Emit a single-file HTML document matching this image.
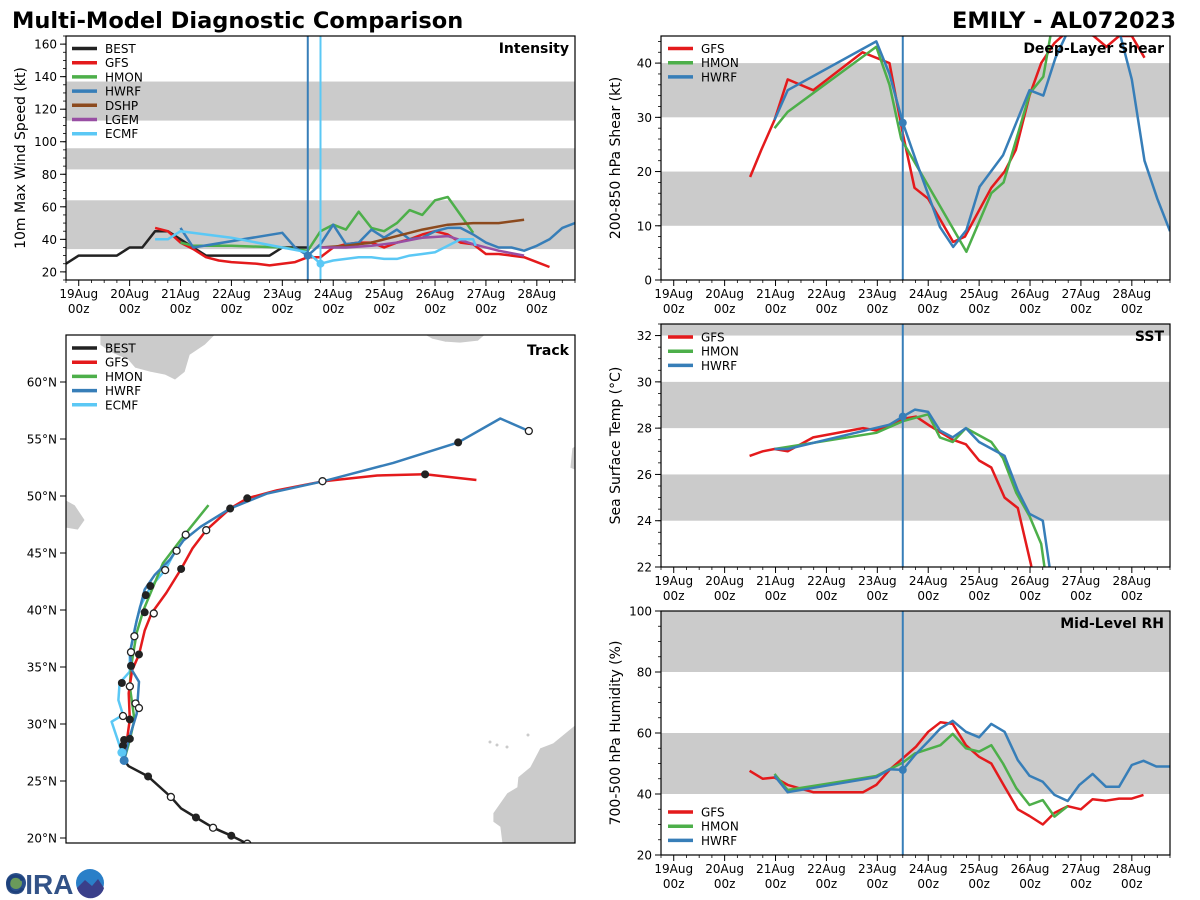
<!DOCTYPE html>
<html><head><meta charset="utf-8"><style>
html,body{margin:0;padding:0;background:#fff;}
svg{display:block;font-family:"DejaVu Sans","Liberation Sans",sans-serif;}
</style></head><body>
<svg id="fig" width="1200" height="900" viewBox="0 0 1200 900" xmlns="http://www.w3.org/2000/svg">
<text x="12" y="28" font-size="22.5" font-weight="bold" fill="#000">Multi-Model Diagnostic Comparison</text>
<text x="1176" y="28" font-size="22.5" font-weight="bold" fill="#000" text-anchor="end">EMILY - AL072023</text>
<g>
<circle cx="16" cy="883" r="10" fill="#2a4f8a"/><circle cx="16" cy="883" r="6" fill="#6a9a5a"/>
<text x="5" y="894" font-size="28" font-weight="bold" fill="#1c3f7a" font-family="Liberation Sans, sans-serif" fill-opacity="0.9">CIRA</text>
<circle cx="90" cy="883" r="14" fill="#2a7fc8"/><path d="M77,888 L85,880 L92,886 L98,879 L104,888 A14,14 0 0 1 77,888Z" fill="#3a3f8a"/>
</g>
<g id="plots"></g>
</svg>
<script>
// ---------------- DATA ----------------
// times in days from 19 Aug 00z
const intBestT=[-0.25,0,0.25,0.5,0.75,1,1.25,1.5,1.75,2,2.25,2.5,2.75,3,3.25,3.5,3.75,4,4.25,4.5];
const intBestV=[25,30,30,30,30,35,35,45,45,40,35,30,30,30,30,30,30,35,35,35];
const intGfsT=[1.5,1.75,2,2.25,2.5,2.75,3,3.5,3.75,4,4.25,4.5,4.75,5,5.25,5.5,5.75,6,6.25,6.5,6.75,7,7.25,7.5,7.75,8,8.25,8.5,8.75,9,9.25];
const intGfsV=[47,45,38,34,29,27,26,25,24,25,26,29,29,35,37,38,38,35,38,40,43,45,43,38,37,31,31,30,29,26,23];
const intHmonT=[2,2.25,3,4,4.5,4.75,5,5.25,5.5,5.75,6,6.25,6.5,6.75,7,7.25,7.5,7.75];
const intHmonV=[38,36,36,35,33,45,49,46,57,47,45,50,58,55,64,66,55,44];
const intHwrfT=[2,2.25,4,4.25,4.5,4.75,5,5.25,5.5,5.75,6,6.25,6.5,6.75,7,7.25,7.5,7.75,8,8.25,8.5,8.75,9,9.25,9.5,9.75];
const intHwrfV=[47,35,44,35,30,37,49,37,38,46,41,46,40,41,45,47,47,43,38,35,35,33,36,40,47,50];
const intDshpT=[4.75,5.25,5.75,6.25,6.75,7.25,7.75,8.25,8.75];
const intDshpV=[35,36,38,42,46,49,50,50,52];
const intLgemT=[4.75,5.25,5.75,6.25,6.75,7.25,7.75,8.25,8.75];
const intLgemV=[35,35,36,38,41,42,37,33,30];
const intEcmfT=[1.5,1.75,2,3,4,4.5,4.75,5,5.25,5.5,5.75,6,6.25,6.5,6.75,7,7.25,7.5,7.75,7.8];
const intEcmfV=[40,40,45,41,35,32,25,27,28,29,29,28,28,30,31,32,36,40,40,36];

const shrGfsT=[1.5,1.72,1.98,2.24,2.74,3.71,4.24,4.5,4.73,5.0,5.49,5.72,6.24,6.5,6.72,6.99,7.22,7.48,7.75,8.0,8.25,8.5,8.75,9.0,9.25];
const shrGfsV=[19,24,29.5,37,35,42,40,27,17,15,7,8,17,20,24,34,40,43.7,46,46,45,43,45,45,41];
const shrHmonT=[1.98,2.24,3.98,4.24,4.47,5.75,6.24,6.48,7.0,7.26,7.4,7.5,7.75];
const shrHmonV=[28,31,43,36,26,5.2,16,18,34.5,37.5,45,46,47];
const shrHwrfT=[1.98,2.24,3.98,4.24,4.5,4.76,5.23,5.49,5.75,6.01,6.47,6.99,7.26,7.5,7.75,8,8.25,8.5,8.75,9,9.25,9.5,9.75];
const shrHwrfV=[29.5,35,44,38,29,22,9.8,6.1,9.2,17.2,23,35,34,41,46,47,47,46,46,37,22,15,9];

const sstGfsT=[1.49,1.75,1.98,2.24,2.74,3.72,3.98,4.5,4.76,5.03,5.48,5.74,6.0,6.24,6.5,6.76,7.02,7.1];
const sstGfsV=[26.8,27.0,27.1,27.0,27.6,28.0,27.9,28.4,28.5,28.1,27.5,27.3,26.6,26.3,25.0,24.55,22.1,21];
const sstHmonT=[1.98,3.98,4.5,5.0,5.23,5.48,5.74,6.24,6.47,6.73,6.99,7.22,7.29,7.32];
const sstHmonV=[27.1,27.8,28.3,28.6,27.6,27.4,28.0,27.4,26.7,25.2,24.2,23.0,21.9,21];
const sstHwrfT=[1.98,2.24,4.24,4.5,4.74,5.0,5.23,5.48,5.74,6.0,6.5,6.76,6.99,7.25,7.39,7.42];
const sstHwrfV=[27.1,27.1,28.15,28.5,28.8,28.7,27.9,27.6,28.0,27.4,26.8,25.3,24.3,24.0,21.9,21];

const rhGfsT=[1.49,1.75,1.98,2.24,2.74,3.72,3.98,4.24,4.5,4.76,5.0,5.24,5.48,5.74,6.0,6.24,6.5,6.76,6.99,7.25,7.48,7.74,8.0,8.23,8.49,8.75,9.0,9.23];
const rhGfsV=[47.6,45,45.4,43,40.6,40.6,43,47.9,51.7,55.5,60.4,63.5,63,56,52.2,50,42.4,35,32.8,30,33.8,36,35,38.3,37.8,38.5,38.5,39.7];
const rhHmonT=[1.98,2.24,3.98,4.5,4.74,5.24,5.48,5.74,6.0,6.24,6.47,6.73,6.99,7.25,7.48,7.74];
const rhHmonV=[46.6,41.3,45.9,50.3,53.3,56,59.7,55,53.9,56,50,41.9,36.4,38,32.6,36];
const rhHwrfT=[1.98,2.24,3.98,4.24,4.5,4.74,5.0,5.24,5.48,5.74,6.0,6.24,6.5,6.76,6.99,7.25,7.48,7.74,7.97,8.23,8.49,8.75,9.0,9.23,9.48,9.74];
const rhHwrfV=[46,40.6,45.5,48.1,47.9,52.8,57.2,61.5,64,60.4,58.6,63,60.4,51.1,46,44,39.7,37.7,43,46.6,42.4,42.4,49.5,50.9,49,49];

const dayLabels=["19Aug","20Aug","21Aug","22Aug","23Aug","24Aug","25Aug","26Aug","27Aug","28Aug"];
const intTicks=[20,40,60,80,100,120,140,160];
const shrTicks=[0,10,20,30,40];
const sstTicks=[22,24,26,28,30,32];
const rhTicks=[20,40,60,80,100];
const latTicks=[20,25,30,35,40,45,50,55,60];

// track (lon, lat)
const trkBestLon=[-49.9,-49.5,-47.8,-45.8,-44.9,-43.6,-42.1,-40.5,-39.1,-38.0];
const trkBestLat=[26.8,26.3,25.4,23.6,22.6,21.8,20.9,20.2,19.5,18.8];
const trkGfsLon=[-49.9,-49.4,-49.5,-49.2,-48.6,-48.1,-47.5,-46.2,-44.9,-43.9,-42.7,-40.6,-39.1,-36.5,-32.4,-27.7,-23.5,-19.0];
const trkGfsLat=[26.8,30.4,32.7,34.7,36.1,38.2,39.7,41.5,43.6,45.4,47.0,48.9,49.8,50.5,51.3,51.8,51.9,51.4];
const trkHmonLon=[-49.9,-49.4,-49.0,-49.4,-49.3,-48.8,-48.2,-46.5,-44.6,-42.5];
const trkHmonLat=[26.8,28.6,30.4,33.3,35.0,38.0,40.0,44.1,46.6,49.2];
const trkHwrfLon=[-49.9,-49.5,-48.8,-48.6,-49.2,-49.4,-48.8,-48.1,-47.2,-45.9,-44.7,-43.2,-40.6,-37.4,-32.4,-26.3,-20.6,-16.9,-14.4];
const trkHwrfLat=[26.8,28.6,30.9,33.7,34.7,36.2,39.1,41.8,43.1,44.4,46.1,47.3,48.9,50.2,51.3,52.9,54.7,56.8,55.7];
const trkEcmfLon=[-50.1,-51.0,-50.0,-50.4,-50.3,-49.4,-49.4,-49.0,-48.5,-47.6,-46.3,-45.3];
const trkEcmfLat=[27.5,30.2,30.8,32.1,33.6,34.6,36.2,38.2,40.3,42.0,43.5,45.4];
const mkFilledLon=[-50.1,-49.4,-49.9,-49.4,-50.0,-48.6,-48.1,-48.0,-47.6,-44.9,-49.3,-40.6,-39.1,-23.5,-20.6,-47.8,-43.6,-40.5];
const mkFilledLat=[33.6,30.4,28.6,28.7,28.1,36.1,39.8,41.3,42.1,43.6,35.1,48.9,49.8,51.9,54.7,25.4,21.8,20.2];
const mkOpenLon=[-50.0,-49.4,-48.9,-48.6,-49.3,-49.0,-47.3,-46.3,-45.3,-44.5,-42.7,-32.5,-14.4,-45.8,-42.1,-39.1];
const mkOpenLat=[30.7,33.3,31.8,31.4,36.3,37.7,39.7,43.5,45.2,46.6,47.0,51.3,55.7,23.6,20.9,19.5];

const C={BEST:"#222222",GFS:"#e41a1c",HMON:"#4daf4a",HWRF:"#377eb8",DSHP:"#8c4a1e",LGEM:"#984ea3",ECMF:"#5bc8f5"};
// ---------------- DRAW ----------------
const NS="http://www.w3.org/2000/svg";
const root=document.getElementById('plots');
function el(tag,attrs,parent){const e=document.createElementNS(NS,tag);for(const k in attrs)e.setAttribute(k,attrs[k]);(parent||root).appendChild(e);return e;}
let clipN=0;
function panel(name,x0,y0,x1,y1,ymin,ymax,ticks,minorStep,ylabel,title,bands){
  const g=el('g',{});
  
  
  const sx=t=>x0+(t+0.25)*(x1-x0)/10;
  const sy=v=>y1-(v-ymin)*(y1-y0)/(ymax-ymin);
  const id='clip'+(clipN++);
  const cp=el('clipPath',{id:id},g);el('rect',{x:x0,y:y0,width:x1-x0,height:y1-y0},cp);
  bands.forEach(b=>{const r=el('rect',{x:x0,y:sy(Math.min(b[1],ymax)),width:x1-x0,height:sy(b[0])-sy(Math.min(b[1],ymax)),fill:'#cbcbcb'},g);
    
    });
  const plot=el('g',{'clip-path':'url(#'+id+')'},g);
  ticks.forEach(v=>{el('line',{x1:x0-6,x2:x0,y1:sy(v),y2:sy(v),stroke:'#000','stroke-width':1},g);
    const t=el('text',{x:x0-9,y:sy(v)+4.5,'font-size':12,'text-anchor':'end'},g);t.textContent=v;
    
    });
  for(let v=ymin-(ymin%minorStep);v<=ymax;v+=minorStep){if(v<ymin)continue;el('line',{x1:x0-3,x2:x0,y1:sy(v),y2:sy(v),stroke:'#000','stroke-width':0.8},g);}
  for(let i=0;i<=40;i++){const t=-0.25+i*0.25;const X=sx(t);el('line',{x1:X,x2:X,y1:y1,y2:y1+(i%4===1?6:3),stroke:'#000','stroke-width':(i%4===1?1:0.8)},g);}
  dayLabels.forEach((d,i)=>{const X=sx(i);
    const a=el('text',{x:X,y:y1+18,'font-size':12,'text-anchor':'middle'},g);a.textContent=d;
    
    
    const b=el('text',{x:X,y:y1+33,'font-size':12,'text-anchor':'middle'},g);b.textContent='00z';
    
    });
  const yl=el('text',{x:0,y:0,'font-size':14,'text-anchor':'middle',transform:`translate(${x0-41},${(y0+y1)/2}) rotate(-90)`},g);yl.textContent=ylabel;
  
  
  const tt=el('text',{x:x1-6,y:y0+17,'font-size':14,'font-weight':'bold','text-anchor':'end'},g);tt.textContent=title;
  
  
  return {g,plot,sx,sy,x0,y0,x1,y1,finish(){el('rect',{x:x0,y:y0,width:x1-x0,height:y1-y0,fill:'none',stroke:'#000','stroke-width':1.2},g);}};
}
function series(P,T,V,color,name){
  const d=T.map((t,i)=>(i?'L':'M')+P.sx(t).toFixed(1)+','+P.sy(V[i]).toFixed(1)).join(' ');
  const p=el('path',{d:d,fill:'none',stroke:color,'stroke-width':2.5,'stroke-linejoin':'round'},P.plot);
  
  
}
function vline(P,t,color){el('line',{x1:P.sx(t),x2:P.sx(t),y1:P.y0,y2:P.y1,stroke:color,'stroke-width':2},P.plot);}
function dot(P,T,V,t,color){const i=T.indexOf(t);if(i<0)return;el('circle',{cx:P.sx(t),cy:P.sy(V[i]),r:4,fill:color},P.plot);}
function legend(P,x,y,names){names.forEach((n,i)=>{const yy=y+i*14.2;
  el('line',{x1:x,x2:x+25,y1:yy,y2:yy,stroke:C[n],'stroke-width':3.5},P.g);
  const t=el('text',{x:x+33,y:yy+4.5,'font-size':12},P.g);t.textContent=n;
  
  });}

const PI=panel('intensity',66,36,575,280,15,165,intTicks,5,'10m Max Wind Speed (kt)','Intensity',[[34,64],[83,96],[113,137]]);
series(PI,intBestT,intBestV,C.BEST,'best-intensity-line');
series(PI,intGfsT,intGfsV,C.GFS,'gfs-intensity-line');
series(PI,intHmonT,intHmonV,C.HMON,'hmon-intensity-line');
series(PI,intHwrfT,intHwrfV,C.HWRF,'hwrf-intensity-line');
series(PI,intDshpT,intDshpV,C.DSHP,'dshp-intensity-line');
series(PI,intLgemT,intLgemV,C.LGEM,'lgem-intensity-line');
series(PI,intEcmfT,intEcmfV,C.ECMF,'ecmf-intensity-line');
vline(PI,4.5,C.HWRF);vline(PI,4.75,C.ECMF);
dot(PI,intHwrfT,intHwrfV,4.5,C.HWRF);dot(PI,intEcmfT,intEcmfV,4.75,C.ECMF);
legend(PI,72,48.5,['BEST','GFS','HMON','HWRF','DSHP','LGEM','ECMF']);PI.finish();

const PS=panel('shear',661,36,1170,280,0,45,shrTicks,2,'200-850 hPa Shear (kt)','Deep-Layer Shear',[[10,20],[30,40]]);
series(PS,shrGfsT,shrGfsV,C.GFS,'gfs-shear-line');
series(PS,shrHmonT,shrHmonV,C.HMON,'hmon-shear-line');
series(PS,shrHwrfT,shrHwrfV,C.HWRF,'hwrf-shear-line');
vline(PS,4.5,C.HWRF);dot(PS,shrHwrfT,shrHwrfV,4.5,C.HWRF);
legend(PS,668,48.5,['GFS','HMON','HWRF']);PS.finish();

const PT=panel('sst',661,324,1170,567,22,32.5,sstTicks,0.5,'Sea Surface Temp (°C)','SST',[[24,26],[28,30],[32,33]]);
series(PT,sstGfsT,sstGfsV,C.GFS,'gfs-sst-line');
series(PT,sstHmonT,sstHmonV,C.HMON,'hmon-sst-line');
series(PT,sstHwrfT,sstHwrfV,C.HWRF,'hwrf-sst-line');
vline(PT,4.5,C.HWRF);dot(PT,sstHwrfT,sstHwrfV,4.5,C.HWRF);
legend(PT,668,337,['GFS','HMON','HWRF']);PT.finish();

const PR=panel('rh',661,611,1170,855,20,100,rhTicks,5,'700-500 hPa Humidity (%)','Mid-Level RH',[[40,60],[80,100]]);
series(PR,rhGfsT,rhGfsV,C.GFS,'gfs-rh-line');
series(PR,rhHmonT,rhHmonV,C.HMON,'hmon-rh-line');
series(PR,rhHwrfT,rhHwrfV,C.HWRF,'hwrf-rh-line');
vline(PR,4.5,C.HWRF);dot(PR,rhHwrfT,rhHwrfV,4.5,C.HWRF);
legend(PR,668,812,['GFS','HMON','HWRF']);PR.finish();

(function(){
  const x0=66,y0=335,x1=575,y1=843,k=11.4;
  const mx=lon=>x0+(lon+55)*k, my=lat=>838-(lat-20)*k;
  const g=el('g',{});
  
  
  const cp=el('clipPath',{id:'clipMap'},g);el('rect',{x:x0,y:y0,width:x1-x0,height:y1-y0},cp);
  const m=el('g',{'clip-path':'url(#clipMap)'},g);
  const land=[
   "M100,335 L215,335 L205,345 L190,355 L185,372 L175,380 L165,375 L150,372 L135,368 L128,360 L110,352 L100,345Z",
   "M425,335 L485,335 L478,341 L460,343 L445,342 L432,339Z",
   "M66,500 L75,505 L85,520 L78,530 L66,528Z",
   "M575,725 L553,743 L540,748 L530,767 L518,777 L517,787 L507,793 L493,813 L493,822 L500,827 L502,843 L575,843Z",
   "M572,448 L575,446 L575,470 L570,468Z"];
  land.forEach(d=>{const p=el('path',{d:d,fill:'#cbcbcb',stroke:'#fff','stroke-width':0.8},m);
    
    });
  [[490,742],[497,745],[507,747],[528,735]].forEach(q=>el('circle',{cx:q[0],cy:q[1],r:1.5,fill:'#cbcbcb'},m));
  function trk(LON,LAT,color,name){
    const d=LON.map((lo,i)=>(i?'L':'M')+mx(lo).toFixed(1)+','+my(LAT[i]).toFixed(1)).join(' ');
    const p=el('path',{d:d,fill:'none',stroke:color,'stroke-width':2.5,'stroke-linejoin':'round'},m);
    
    }
  trk(trkBestLon,trkBestLat,C.BEST,'best-track-line');
  trk(trkEcmfLon,trkEcmfLat,C.ECMF,'ecmf-track-line');
  trk(trkHmonLon,trkHmonLat,C.HMON,'hmon-track-line');
  trk(trkGfsLon,trkGfsLat,C.GFS,'gfs-track-line');
  trk(trkHwrfLon,trkHwrfLat,C.HWRF,'hwrf-track-line');
  mkFilledLon.forEach((lo,i)=>el('circle',{cx:mx(lo),cy:my(mkFilledLat[i]),r:4,fill:'#222'},m));
  mkOpenLon.forEach((lo,i)=>el('circle',{cx:mx(lo),cy:my(mkOpenLat[i]),r:3.5,fill:'#fff',stroke:'#222','stroke-width':1.3},m));
  el('circle',{cx:mx(trkEcmfLon[0]),cy:my(trkEcmfLat[0]),r:4.5,fill:C.ECMF},m);
  el('circle',{cx:mx(trkHwrfLon[0]),cy:my(trkHwrfLat[0]),r:4.5,fill:C.HWRF},m);
  latTicks.forEach(v=>{el('line',{x1:x0-6,x2:x0,y1:my(v),y2:my(v),stroke:'#000'},g);
    const t=el('text',{x:x0-9,y:my(v)+4.5,'font-size':12,'text-anchor':'end'},g);t.textContent=v+'°N';
    
    });
  const tt=el('text',{x:x1-6,y:y0+20,'font-size':14,'font-weight':'bold','text-anchor':'end'},g);tt.textContent='Track';
  
  
  ['BEST','GFS','HMON','HWRF','ECMF'].forEach((n,i)=>{const yy=348+i*14.2;
    el('line',{x1:72,x2:97,y1:yy,y2:yy,stroke:C[n],'stroke-width':3.5},g);
    const t=el('text',{x:105,y:yy+4.5,'font-size':12},g);t.textContent=n;
    
    });
  el('rect',{x:x0,y:y0,width:x1-x0,height:y1-y0,fill:'none',stroke:'#000','stroke-width':1.2},g);
})();
</script>
</body></html>
